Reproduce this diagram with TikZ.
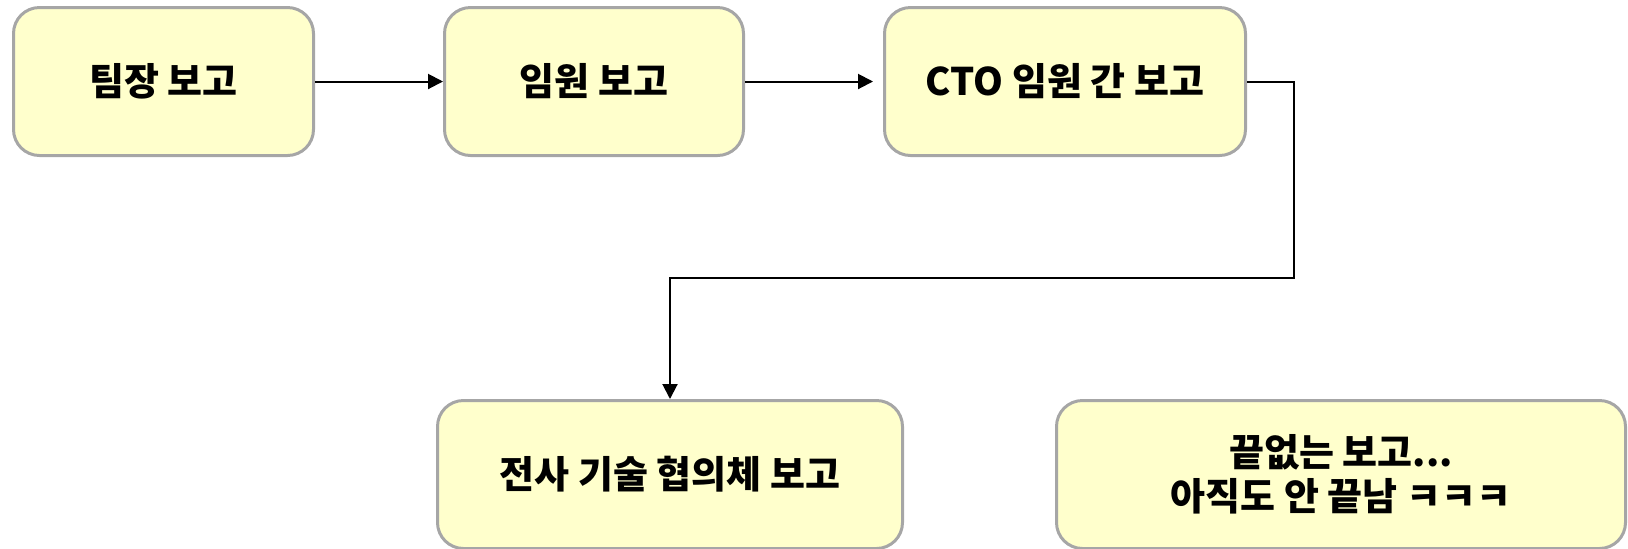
\documentclass[tikz,border=0pt]{standalone}
\usepackage{fontspec}
\setmainfont{Noto Sans CJK KR}
\usetikzlibrary{arrows.meta}
\definecolor{boxfill}{HTML}{FFFFCC}
\definecolor{boxline}{HTML}{A6A6A6}
\begin{document}
\begin{tikzpicture}[x=0.5pt,y=-0.5pt,
  box/.style={draw=boxline, fill=boxfill, line width=1.5pt, rounded corners=13pt,
    minimum height=74pt, inner sep=0pt, align=center,
    font=\fontsize{19}{22}\selectfont\bfseries},
  conn/.style={draw=black, line width=1pt, -{Triangle[length=7.5pt,width=7.5pt]}}]
\useasboundingbox (0,0) rectangle (1628,548);
\node[box, minimum width=150pt] (b1) at (163.5,81.5) {팀장 보고};
\node[box, minimum width=149.5pt] (b2) at (594,81.5) {임원 보고};
\node[box, minimum width=180.5pt] (b3) at (1065,81.5) {CTO 임원 간 보고};
\node[box, minimum width=232.5pt] (b4) at (670,474.5) {전사 기술 협의체 보고};
\node[box, minimum width=284.5pt] (b5) at (1341,474.5) {끝없는 보고...\\아직도 안 끝남 ㅋㅋㅋ};
\coordinate (c1) at (1294,81.5);
\coordinate (c2) at (1294,278);
\draw[conn] (b1) -- (b2);
\draw[conn, shorten >=5pt] (b2) -- (b3);
\draw[conn] (b3.east) -- (c1) -- (c2) -| (b4.north);
\end{tikzpicture}
\end{document}
